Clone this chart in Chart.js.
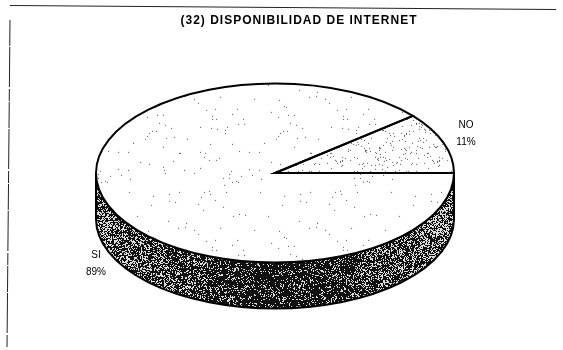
<!DOCTYPE html>
<html>
<head>
    <title>Disponibilidad de Internet</title>
    <script src="https://cdn.jsdelivr.net/npm/chart.js"></script>
    <style>
        html, body { margin: 0; padding: 0; background: #fff; }
        #wrap { width: 563px; height: 350px; }
    </style>
</head>
<body>
    <div id="wrap"><canvas id="pieChart"></canvas></div>

    <script>
        const chartTitle = '(32) DISPONIBILIDAD DE INTERNET';
        const categories = ['NO', 'SI'];
        const shares = [11, 89];
        const percentLabels = ['11%', '89%'];

        // 3D look: the round pie gets squashed to this ellipse, wall hangs below it
        const pieShape = { cx: 275, cy: 173, rx: 179, ry: 89.5, depth: 46 };
        const labelSpots = [{ x: 466, y: 125, gap: 17 }, { x: 96, y: 255, gap: 17 }];

        // small hash so the scan texture looks the same on every run
        function noise(x, y) {
            const v = Math.sin(x * 127.1 + y * 311.7) * 43758.5453;
            return v - Math.floor(v);
        }

        function speckle(density, size) {
            const c = document.createElement('canvas');
            c.width = c.height = size;
            const g = c.getContext('2d');
            g.fillStyle = '#fff';
            g.fillRect(0, 0, size, size);
            g.fillStyle = '#555';
            for (let y = 0; y < size; y++) {
                for (let x = 0; x < size; x++) {
                    if (noise(x, y) < density) g.fillRect(x, y, 1, 1);
                }
            }
            return c;
        }

        // wall: mostly black with white grain, darker towards the middle
        function wallTexture() {
            const c = document.createElement('canvas');
            c.width = 563;
            c.height = 350;
            const g = c.getContext('2d');
            g.fillStyle = '#ddd';
            g.fillRect(0, 0, 563, 350);
            g.fillStyle = '#111';
            for (let y = 0; y < 350; y++) {
                for (let x = 0; x < 563; x++) {
                    const middle = 1 - Math.abs(x - 275) / 180;
                    const blotch = noise(Math.floor(x / 5), Math.floor(y / 4)) * 0.2;
                    if (noise(x + 3, y + 7) < 0.45 + 0.33 * middle + blotch) g.fillRect(x, y, 1, 1);
                }
            }
            return c;
        }

        const ctx = document.getElementById('pieChart').getContext('2d');
        const sliceFills = [
            ctx.createPattern(speckle(0.04, 97), 'repeat'),
            ctx.createPattern(speckle(0.006, 131), 'repeat')
        ];
        const wallFill = ctx.createPattern(wallTexture(), 'no-repeat');

        const pie3d = {
            id: 'pie3d',
            beforeDraw(chart) {
                chart.ctx.letterSpacing = '1px'; // scan has the title spread out
            },
            beforeDatasetsDraw(chart) {
                chart.ctx.letterSpacing = '0px';
            },
            beforeDatasetDraw(chart) {
                const c = chart.ctx;
                const arcs = chart.getDatasetMeta(0).data;
                const s = pieShape;
                c.save();
                // wall only shows on the front half of the ellipse
                arcs.forEach((arc) => {
                    const from = Math.max(arc.startAngle, 0);
                    const to = Math.min(arc.endAngle, Math.PI);
                    if (to <= from) return;
                    c.beginPath();
                    c.ellipse(s.cx, s.cy, s.rx, s.ry, 0, from, to);
                    c.ellipse(s.cx, s.cy + s.depth, s.rx, s.ry, 0, to, from, true);
                    c.closePath();
                    c.fillStyle = wallFill;
                    c.fill();
                    c.strokeStyle = '#000';
                    c.lineWidth = 2;
                    c.stroke();
                });
                c.restore();
                // the library draws the slices inside this squashed space
                const a = arcs[0];
                const sx = s.rx / a.outerRadius;
                const sy = s.ry / a.outerRadius;
                sliceFills.forEach((p) => p.setTransform(new DOMMatrix().scale(1 / sx, 1 / sy)));
                c.save();
                c.translate(s.cx, s.cy);
                c.scale(sx, sy);
                c.translate(-a.x, -a.y);
            },
            afterDatasetDraw(chart) {
                const c = chart.ctx;
                c.restore();
                const s = pieShape;
                c.save();
                c.strokeStyle = '#000';
                c.lineWidth = 2;
                chart.getDatasetMeta(0).data.forEach((arc) => {
                    c.beginPath();
                    c.moveTo(s.cx, s.cy);
                    c.ellipse(s.cx, s.cy, s.rx, s.ry, 0, arc.startAngle, arc.endAngle);
                    c.closePath();
                    c.stroke();
                });
                c.restore();
            },
            afterDraw(chart) {
                const c = chart.ctx;
                c.save();
                // slice labels
                c.fillStyle = '#000';
                c.font = '10px "Liberation Sans"';
                c.textAlign = 'center';
                c.textBaseline = 'middle';
                categories.forEach((name, i) => {
                    const spot = labelSpots[i];
                    c.fillText(name, spot.x, spot.y);
                    c.fillText(percentLabels[i], spot.x, spot.y + spot.gap);
                });
                // rough page frame from the scan
                c.strokeStyle = '#222';
                c.lineWidth = 1;
                c.beginPath();
                c.moveTo(10, 5.5);
                c.lineTo(556, 9.5);
                c.stroke();
                c.beginPath();
                c.setLineDash([26, 1, 40, 2, 12, 1]);
                c.moveTo(10, 20);
                c.lineTo(7, 348);
                c.stroke();
                c.restore();
            }
        };

        new Chart(ctx, {
            type: 'pie',
            data: {
                labels: categories,
                datasets: [{
                    data: shares,
                    backgroundColor: sliceFills,
                    borderWidth: 0
                }]
            },
            options: {
                responsive: true,
                maintainAspectRatio: false,
                animation: false,
                rotation: 90 - shares[0] * 3.6,
                layout: { padding: { left: 35 } },
                plugins: {
                    legend: { display: false },
                    tooltip: { enabled: false },
                    title: {
                        display: true,
                        text: chartTitle,
                        color: '#000',
                        font: { family: '"Liberation Sans"', size: 12, weight: 'bold' },
                        padding: { top: 13, bottom: 4 }
                    }
                }
            },
            plugins: [pie3d]
        });
    </script>
</body>
</html>
